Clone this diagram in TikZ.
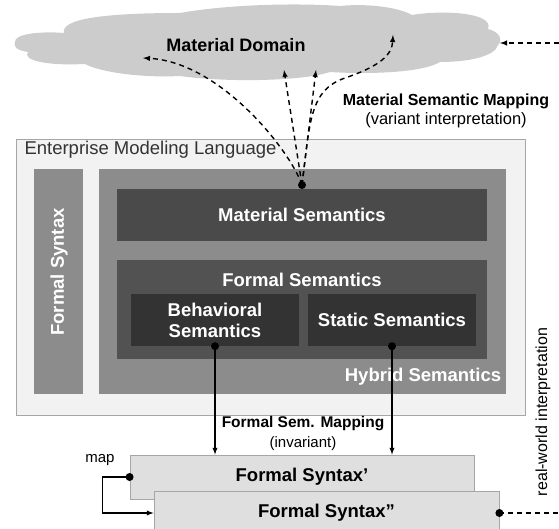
\documentclass[tikz,border=0pt]{standalone}
\usepackage{fontspec}
\setmainfont{Liberation Sans}
\usepackage{tikz}

\definecolor{cloudgray}{HTML}{CCCCCC}
\definecolor{emlgray}{HTML}{F2F2F2}
\definecolor{linegray}{HTML}{A6A6A6}
\definecolor{midgray}{HTML}{8C8C8C}
\definecolor{matgray}{HTML}{4A4A4A}
\definecolor{formgray}{HTML}{525252}
\definecolor{darkgray}{HTML}{333333}
\definecolor{syngray}{HTML}{DFDFDF}

\begin{document}
\begin{tikzpicture}[>=latex, x=1pt, y=-1pt,
  whitetext/.style={text=white, font=\bfseries\fontsize{18.5}{21}\selectfont},
  innerbox/.style={fill=darkgray, minimum width=168pt, minimum height=52pt, inner sep=0pt, whitetext, align=center},
  syntbox/.style={fill=syngray, draw=linegray, line width=0.8pt, minimum height=44pt, inner sep=0pt, font=\bfseries\fontsize{18.5}{21}\selectfont},
  mapline/.style={dashed, dash pattern=on 5pt off 4pt, line width=1.4pt},
  semline/.style={line width=1.3pt},
  dot/.style={circle, fill=black, inner sep=0pt, minimum size=8pt}]
\useasboundingbox (0,0) rectangle (559,529);
%cloud
\fill[cloudgray] (15,42) .. controls (14,34) and (40,31) .. (64,33)
  .. controls (60,18) and (110,13) .. (180,13)
  .. controls (230,4) and (300,3) .. (340,6)
  .. controls (370,3) and (400,8) .. (412,15)
  .. controls (440,10) and (495,12) .. (488,29)
  .. controls (500,32) and (503,40) .. (498,45)
  .. controls (495,56) and (470,62) .. (440,62)
  .. controls (420,74) and (360,74) .. (330,72)
  .. controls (300,82) and (220,82) .. (180,76)
  .. controls (140,78) and (100,72) .. (85,64)
  .. controls (45,66) and (22,60) .. (28,52)
  .. controls (14,50) and (14,45) .. (15,42) -- cycle;
\coordinate (cloudtip) at (500,43);
\node[font=\bfseries\fontsize{18}{20}\selectfont] (domain) at (236,45) {Material Domain};
\node[font=\bfseries\fontsize{16}{18}\selectfont] (msm) at (446,101) {Material Semantic Mapping};
\node[font=\fontsize{16.5}{18}\selectfont] (variant) at (446,120) {(variant interpretation)};
%enterprise modeling language
\node[fill=emlgray, draw=linegray, line width=0.8pt, minimum width=509pt, minimum height=276pt] (eml) at (270.5,277) {};
\node[anchor=west, text=black!80, font=\fontsize{18.5}{20}\selectfont] (emltext) at (21,150) {Enterprise Modeling Language};
%formal syntax column
\node[fill=midgray, minimum width=49pt, minimum height=225pt] (syntax) at (58.5,281.5) {};
\node[whitetext, rotate=90] (syntaxtext) at (59,272) {Formal Syntax};
%hybrid semantics
\node[fill=midgray, minimum width=407pt, minimum height=225pt] (hybrid) at (302.5,281.5) {};
\node[whitetext] (hybridtext) at (423,377) {Hybrid Semantics};
%material semantics
\node[fill=matgray, minimum width=370pt, minimum height=52pt, whitetext] (material) at (302,215) {Material Semantics};
%formal semantics
\node[fill=formgray, minimum width=370pt, minimum height=99pt] (formal) at (302,309.5) {};
\node[whitetext] (formaltext) at (302,280) {Formal Semantics};
\node[innerbox] (behav) at (215,320) {Behavioral\\Semantics};
\node[innerbox] (static) at (392,320) {Static Semantics};
%formal syntax variants
\node[syntbox, minimum width=344pt] (fs1) at (302,477) {Formal Syntax’};
\node[syntbox, minimum width=345pt] (fs2) at (326.5,513) {Formal Syntax”};
%material semantic mapping
\coordinate (matroot) at (302,185);
\coordinate (tipa) at (143,58);
\coordinate (tipb) at (284,70);
\coordinate (tipc) at (316,70);
\coordinate (tipd) at (393,35);
\draw[mapline,->] (matroot) .. controls (290,150) and (220,62) .. (tipa);
\draw[mapline,->] (matroot) -- (tipb);
\draw[mapline,->] (matroot) -- (tipc);
\draw[mapline,->] (matroot) .. controls (310,120) and (310,90) .. (345,78)
  .. controls (380,66) and (392,55) .. (tipd);
\node[dot] (matdot) at (matroot) {};
%formal semantic mapping
\draw[semline,->] (behav.south) -- (behav.south |- fs1.north);
\draw[semline,->] (static.south) -- (static.south |- fs1.north);
\node[dot] (behavdot) at (behav.south) {};
\node[dot] (staticdot) at (static.south) {};
\node[font=\bfseries\fontsize{15.5}{18}\selectfont] (fsm) at (303,424) {Formal Sem. Mapping};
\node[font=\fontsize{15}{18}\selectfont] (invariant) at (303,444) {(invariant)};
%map
\draw[semline,->] (fs1.west) -- ++(-27,0) |- (fs2.west);
\node[dot] (mapdot) at (fs1.west) {};
\node[font=\fontsize{15}{18}\selectfont] (maplabel) at (100,460) {map};
%real-world interpretation
\coordinate (rightbottom) at (559,513);
\coordinate (righttop) at (559,43);
\draw[mapline] (fs2.east) -- (rightbottom);
\node[dot] (realdot) at (fs2.east) {};
\draw[mapline,->] (righttop) -- (cloudtip);
\node[rotate=90, font=\fontsize{16}{18}\selectfont] (realworld) at (543,412) {real-world interpretation};
\end{tikzpicture}
\end{document}
